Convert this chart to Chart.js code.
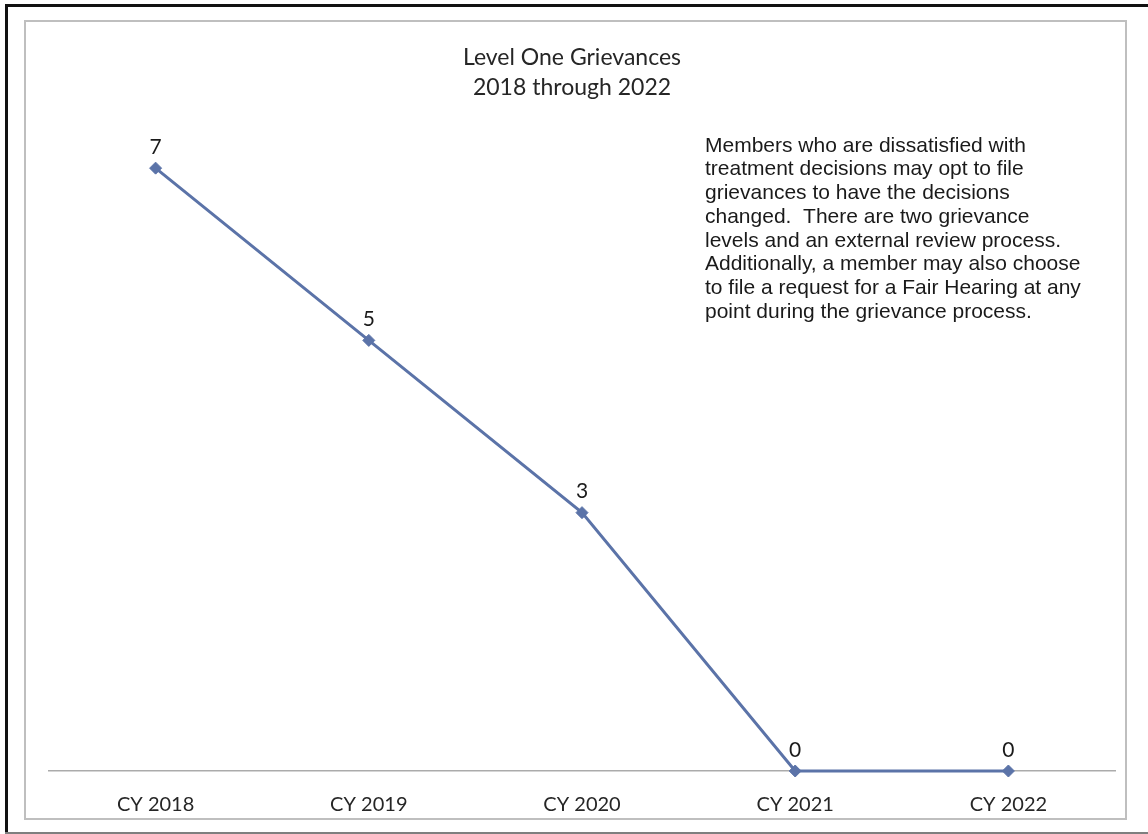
<!DOCTYPE html>
<html>
<head>
<meta charset="utf-8">
<script src="https://cdn.jsdelivr.net/npm/chart.js@4.4.1/dist/chart.umd.min.js"></script>
<style>
  html, body { margin: 0; padding: 0; background: #ffffff; }
  #wrap { position: relative; width: 1148px; height: 834px; }
</style>
</head>
<body>
<div id="wrap"><canvas id="c" width="1148" height="834"></canvas></div>
<script>
const categories = ['CY 2018', 'CY 2019', 'CY 2020', 'CY 2021', 'CY 2022'];
const grievances = [7, 5, 3, 0, 0];
const titleLines = ['Level One Grievances', '2018 through 2022'];
const noteLines = [
  'Members who are dissatisfied with',
  'treatment decisions may opt to file',
  'grievances to have the decisions',
  'changed.  There are two grievance',
  'levels and an external review process.',
  'Additionally, a member may also choose',
  'to file a request for a Fair Hearing at any',
  'point during the grievance process.'
];

const LINE_COLOR = '#5b73a8';
const CAL = 'Lato, "Open Sans", sans-serif';

const framePlugin = {
  id: 'frame',
  beforeDraw(chart) {
    const ctx = chart.ctx;
    ctx.save();
    ctx.fillStyle = '#ffffff';
    ctx.fillRect(0, 0, chart.width, chart.height);
    // outer frame
    ctx.fillStyle = '#111111';
    ctx.fillRect(5, 4, 3, 830);
    ctx.fillRect(5, 4, 1143, 3);
    ctx.fillStyle = '#7f7f7f';
    ctx.fillRect(5, 832, 1143, 2);
    // inner chart border
    ctx.strokeStyle = '#bfbfbf';
    ctx.lineWidth = 2;
    ctx.strokeRect(25, 21, 1101, 798);
    ctx.restore();
  },
  afterDraw(chart) {
    const ctx = chart.ctx;
    ctx.save();
    // title
    ctx.fillStyle = '#262626';
    ctx.font = '23px ' + CAL;
    ctx.textAlign = 'center';
    ctx.textBaseline = 'middle';
    ctx.fillText(titleLines[0], 572, 58);
    ctx.fillText(titleLines[1], 572, 88);
    // note text box
    ctx.fillStyle = '#1a1a1a';
    ctx.font = '21px "Liberation Sans", Arial, sans-serif';
    ctx.textAlign = 'left';
    noteLines.forEach((t, i) => ctx.fillText(t, 705, 146 + i * 23.7));
    // value labels
    const meta = chart.getDatasetMeta(0);
    ctx.fillStyle = '#1a1a1a';
    ctx.font = '21px ' + CAL;
    ctx.textAlign = 'center';
    meta.data.forEach((pt, i) => {
      ctx.fillText(String(grievances[i]), pt.x, pt.y - 21);
    });
    ctx.restore();
  }
};

new Chart(document.getElementById('c'), {
  type: 'line',
  data: {
    labels: categories,
    datasets: [{
      data: grievances,
      borderColor: LINE_COLOR,
      backgroundColor: LINE_COLOR,
      borderWidth: 3,
      tension: 0,
      pointStyle: 'rectRot',
      pointRadius: 6,
      pointBorderWidth: 1,
      pointBackgroundColor: LINE_COLOR,
      pointBorderColor: LINE_COLOR,
      clip: false
    }]
  },
  options: {
    responsive: false,
    animation: false,
    devicePixelRatio: 1,
    layout: { padding: { left: 49, right: 33, top: 82, bottom: 0 } },
    plugins: { legend: { display: false }, tooltip: { enabled: false }, title: { display: false } },
    scales: {
      x: {
        type: 'category',
        offset: true,
        grid: { display: false, drawTicks: false },
        border: { display: true, color: '#ababab', width: 1.5 },
        ticks: { color: '#262626', font: { family: CAL, size: 20 }, padding: 22, maxRotation: 0 },
        afterFit(scale) { scale.height = 63; }
      },
      y: {
        display: false,
        min: 0,
        max: 8
      }
    }
  },
  plugins: [framePlugin]
});
</script>
</body>
</html>
